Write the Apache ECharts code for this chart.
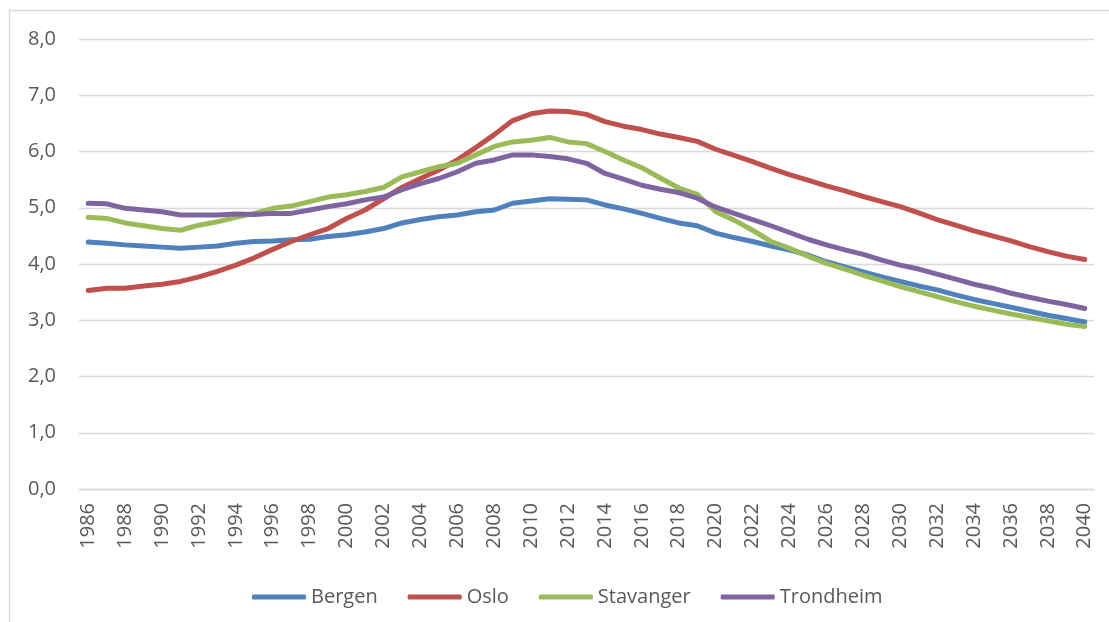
<!DOCTYPE html>
<html>
<head>
<meta charset="utf-8">
<script src="https://cdn.jsdelivr.net/npm/echarts@6/dist/echarts.min.js"></script>
<style>
  html, body { margin: 0; padding: 0; background: #fff; }
  #container-main { width: 1109px; height: 622px; }
</style>
</head>
<body>
<div id="container-main"></div>
<script>
var years = [];
for (var y = 1986; y <= 2040; y++) years.push(String(y));

var bergen = [4.39,4.37,4.34,4.32,4.30,4.28,4.30,4.32,4.37,4.40,
  4.41,4.43,4.44,4.49,4.52,4.57,4.63,4.73,4.79,4.84,
  4.87,4.93,4.96,5.08,5.12,5.16,5.15,5.14,5.05,4.98,
  4.90,4.81,4.73,4.68,4.55,4.47,4.40,4.32,4.25,4.16,
  4.04,3.95,3.86,3.77,3.69,3.61,3.54,3.45,3.37,3.30,
  3.23,3.16,3.09,3.03,2.97];
var oslo = [3.53,3.57,3.57,3.61,3.64,3.69,3.77,3.87,3.98,4.11,
  4.26,4.40,4.52,4.63,4.81,4.96,5.16,5.36,5.52,5.67,
  5.85,6.07,6.30,6.55,6.67,6.72,6.71,6.66,6.53,6.45,
  6.39,6.31,6.25,6.18,6.04,5.93,5.82,5.70,5.59,5.49,
  5.39,5.30,5.20,5.11,5.02,4.91,4.79,4.69,4.59,4.50,
  4.41,4.31,4.22,4.14,4.08];
var stavanger = [4.83,4.81,4.73,4.68,4.63,4.60,4.69,4.75,4.83,4.90,
  4.99,5.03,5.11,5.19,5.23,5.29,5.36,5.55,5.64,5.73,
  5.79,5.94,6.09,6.17,6.20,6.25,6.17,6.14,6.00,5.85,
  5.71,5.53,5.35,5.24,4.93,4.78,4.60,4.40,4.28,4.14,
  4.01,3.91,3.80,3.70,3.60,3.51,3.42,3.33,3.25,3.18,
  3.11,3.05,2.99,2.93,2.89];
var trondheim = [5.08,5.07,4.99,4.96,4.93,4.87,4.87,4.87,4.89,4.88,
  4.90,4.90,4.96,5.02,5.07,5.14,5.19,5.32,5.43,5.52,
  5.64,5.79,5.85,5.94,5.94,5.91,5.87,5.79,5.61,5.51,
  5.40,5.33,5.27,5.17,5.01,4.90,4.79,4.68,4.56,4.44,
  4.34,4.25,4.17,4.07,3.98,3.91,3.82,3.73,3.64,3.57,
  3.48,3.41,3.34,3.28,3.21];

var names = ['Bergen', 'Oslo', 'Stavanger', 'Trondheim'];
var colors = ['#4f81bd', '#c0504d', '#9bbb59', '#8064a2'];
var values = [bergen, oslo, stavanger, trondheim];

var font = '"Open Sans", sans-serif';

function drawLines(element) {
  var dom = document.getElementById('container-' + element);
  var myChart = echarts.init(dom);
  var series = [];
  for (var i = 0; i < names.length; i++) {
    series.push({
      name: names[i],
      type: 'line',
      data: values[i],
      showSymbol: false,
      symbol: 'none',
      lineStyle: { width: 5, color: colors[i], cap: 'round', join: 'round' },
      itemStyle: { color: colors[i] }
    });
  }
  var option = {
    animation: false,
    color: colors,
    graphic: [{
      type: 'rect',
      shape: { x: 9.5, y: 10.5, width: 1200, height: 700 },
      style: { fill: 'none', stroke: '#d9d9d9', lineWidth: 1.3 },
      silent: true
    }],
    grid: { left: 79, right: 15, top: 39, bottom: 133 },
    legend: {
      left: 247,
      top: 582,
      icon: 'roundRect',
      itemWidth: 54,
      itemHeight: 5,
      itemGap: 30,
      textStyle: { color: '#595959', fontSize: 20, fontFamily: font },
      data: names
    },
    xAxis: {
      type: 'category',
      data: years,
      boundaryGap: true,
      axisLine: { lineStyle: { color: '#d9d9d9', width: 1.3 } },
      axisTick: { show: false },
      axisLabel: {
        interval: 1,
        rotate: 90,
        margin: 14,
        color: '#595959',
        fontSize: 20,
        fontFamily: font
      }
    },
    yAxis: {
      type: 'value',
      min: 0,
      max: 8,
      interval: 1,
      axisLine: { show: false },
      axisTick: { show: false },
      splitLine: { lineStyle: { color: '#d9d9d9', width: 1.3 } },
      axisLabel: {
        margin: 23,
        color: '#595959',
        fontSize: 20,
        fontFamily: font,
        formatter: function (v) { return v.toFixed(1).replace('.', ','); }
      }
    },
    series: series
  };
  myChart.setOption(option, true);
}

drawLines('main');
</script>
</body>
</html>
